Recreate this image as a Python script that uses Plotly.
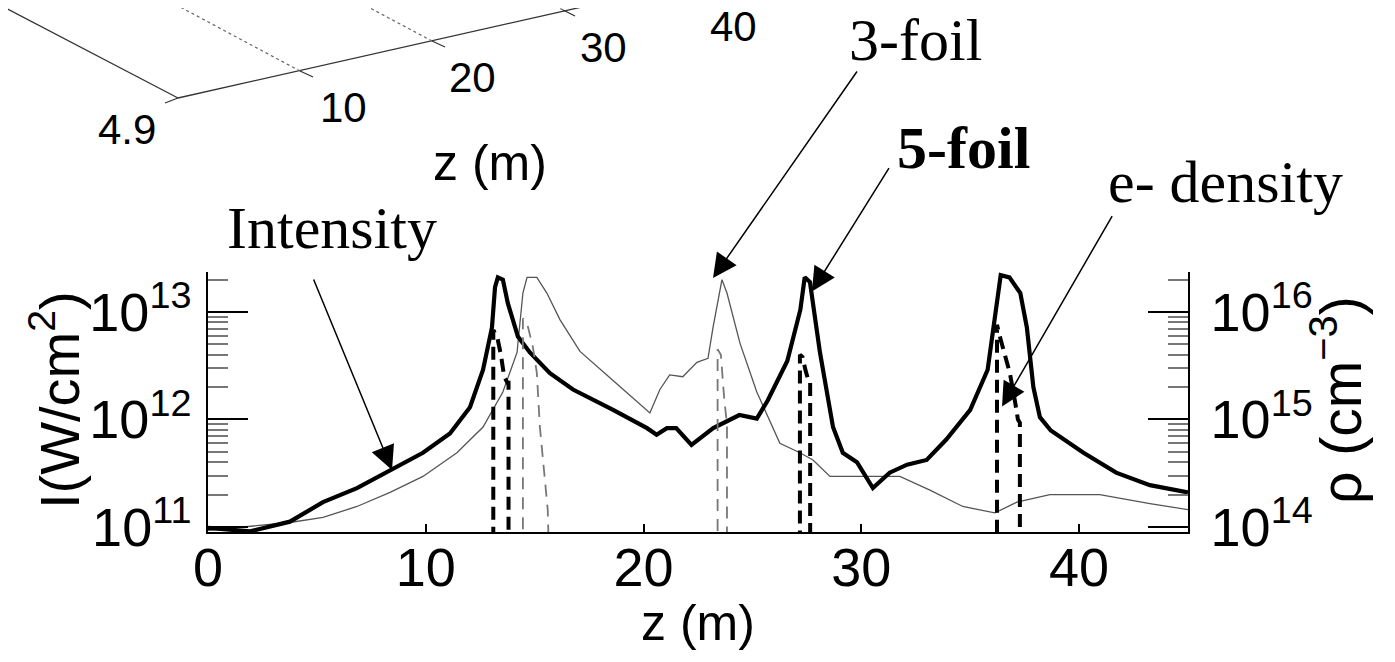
import plotly.graph_objects as go

# ---------------- data ----------------
z_5foil = [0, 1.93, 3.76, 5.28, 6.84, 8.36, 9.87, 11.11, 12.03, 12.63, 13.04, 13.18, 13.31, 13.54,
           13.77, 14.23, 14.78, 15.70, 16.76, 18.6, 20.16, 20.6, 21.07, 21.5, 22.2, 23.2, 24.4, 25.2,
           25.7, 26.6, 27.2, 27.4, 27.64, 28.1, 28.7, 29.15, 29.8, 30.53, 31.3, 32.1, 33.0, 33.9,
           35.0, 35.8, 36.2, 36.4, 36.8, 37.3, 37.6, 37.9, 38.2, 38.7, 40.2, 41.7, 43.25, 45]
I_5foil = [9.8e10, 9.1e10, 1.12e11, 1.7e11, 2.3e11, 3.4e11, 4.9e11, 7.4e11, 1.3e12, 2.9e12, 7.2e12,
           1.7e13, 2.1e13, 2.0e13, 1.2e13, 5.9e12, 4.2e12, 2.7e12, 1.9e12, 1.23e12, 8.3e11, 7.2e11,
           8.3e11, 8.3e11, 5.8e11, 8.3e11, 1.1e12, 1.02e12, 1.5e12, 3.5e12, 1.05e13, 2.1e13, 1.9e13,
           4.2e12, 8.5e11, 4.9e11, 4.0e11, 2.3e11, 3.2e11, 3.8e11, 4.2e11, 6.5e11, 1.23e12, 2.9e12,
           1.05e13, 2.2e13, 2.1e13, 1.5e13, 7.2e12, 2.0e12, 1.05e12, 7.9e11, 4.9e11, 3.2e11, 2.45e11,
           2.1e11]

z_3foil = [0, 3.76, 5.28, 6.84, 8.36, 9.87, 11.43, 12.63, 13.54, 14.19, 14.46, 14.65, 15.1, 15.56,
           16.16, 17.08, 18.6, 19.83, 20.29, 20.75, 21.2, 21.8, 22.45, 22.96, 23.19, 23.6, 23.83,
           24.43, 25.2, 26.26, 27.18, 27.78, 28.56, 31.77, 33.15, 34.66, 36.13, 37.14, 38.66, 40.95,
           43.25, 45]
I_3foil = [9.3e10, 1.1e11, 1.23e11, 1.55e11, 2.1e11, 2.95e11, 4.9e11, 8.5e11, 1.8e12, 4.2e12, 1.5e13,
           2.1e13, 2.1e13, 1.5e13, 8.5e12, 4.3e12, 2.3e12, 1.4e12, 1.15e12, 1.9e12, 2.6e12, 2.5e12,
           3.4e12, 3.7e12, 7.2e12, 2.0e13, 1.5e13, 5.1e12, 1.8e12, 6.0e11, 4.9e11, 4.2e11, 2.95e11,
           2.95e11, 2.2e11, 1.55e11, 1.35e11, 1.7e11, 2.0e11, 2.0e11, 1.65e11, 1.45e11]

# electron density (cm^-3); 1e13 = no plasma (below the axis)
z_rho5 = [0, 13.1, 13.1, 13.3, 13.45, 13.6, 13.75, 13.8, 13.8, 27.18, 27.18, 27.3, 27.45, 27.6, 27.65,
          27.65, 36.23, 36.23, 36.36, 36.6, 36.82, 37.05, 37.19, 37.28, 37.28, 45]
rho_5foil = [1e13, 1e13, 6.8e15, 5.6e15, 4.0e15, 2.5e15, 2.2e15, 2.2e15, 1e13, 1e13, 4.0e15, 3.8e15,
             2.8e15, 2.2e15, 2.2e15, 1e13, 1e13, 7.6e15, 5.9e15, 3.8e15, 2.7e15, 1.5e15, 1.0e15, 9.3e14,
             1e13, 1e13]
z_rho3 = [0, 14.46, 14.46, 14.65, 14.92, 15.1, 15.24, 15.47, 15.6, 15.75, 23.4, 23.4, 23.55, 23.7,
          23.83, 23.83, 45]
rho_3foil = [1e13, 1e13, 8.7e15, 7.9e15, 4.7e15, 2.7e15, 8.5e14, 2.75e14, 1.45e14, 1e13, 1e13, 4.5e15,
             4.0e15, 1.6e15, 9e14, 1e13, 1e13]

x_ticks = [0, 10, 20, 30, 40]
x_ticktext = ["0", "10", "20", "30", "40"]
I_ticks = [1e11, 1e12, 1e13]
I_ticktext = ["10<sup>11</sup>", "10<sup>12</sup>", "10<sup>13</sup>"]
rho_ticks = [1e14, 1e15, 1e16]
rho_ticktext = ["10<sup>14</sup>", "10<sup>15</sup>", "10<sup>16</sup>"]
minor_vals = [m * 10.0 ** e for e in range(10, 17) for m in range(2, 10)]

# 3D axis fragment labels (upper part of the figure)
frag_labels = ["4.9", "10", "20", "30", "40"]

# ---------------- layout helpers ----------------
OFF = 8                                 # page body margin of the html page
W, H = 1395 - 2 * OFF, 662 - 2 * OFF
L0, R0, T0, B0 = 208, 1188, 272, 532    # plot area in page pixels


def px(x):
    return (x - L0) / (R0 - L0)


def py(y):
    return (B0 - y) / (B0 - T0)


SANS = "Liberation Sans, Arial, Helvetica, sans-serif"
SERIF = "Liberation Serif, Times New Roman, serif"

fig = go.Figure()
fig.add_trace(go.Scatter(x=z_3foil, y=I_3foil, mode="lines", name="3-foil",
                         line=dict(color="#555555", width=1.3), yaxis="y"))
fig.add_trace(go.Scatter(x=z_5foil, y=I_5foil, mode="lines", name="5-foil",
                         line=dict(color="black", width=4.2), yaxis="y"))
fig.add_trace(go.Scatter(x=z_rho3, y=rho_3foil, mode="lines", name="e- density 3-foil",
                         line=dict(color="#777777", width=1.8, dash="12px,8px"), yaxis="y2"))
fig.add_trace(go.Scatter(x=z_rho5, y=rho_5foil, mode="lines", name="e- density 5-foil",
                         line=dict(color="black", width=4, dash="13px,7px"), yaxis="y2"))

fig.update_layout(
    width=W, height=H, autosize=False,
    margin=dict(l=L0 - OFF, r=W - (R0 - OFF), t=T0 - OFF, b=H - (B0 - OFF), pad=0),
    paper_bgcolor="white", plot_bgcolor="white",
    showlegend=False,
    xaxis=dict(range=[0, 45], showgrid=False, zeroline=False, showline=True, linecolor="black",
               linewidth=1.5, ticks="inside", ticklen=8, tickwidth=1.5, tickcolor="black",
               tickvals=x_ticks, ticktext=x_ticktext, ticklabelstandoff=-13,
               tickfont=dict(family=SANS, size=54, color="black")),
    yaxis=dict(type="log", range=[10.953, 13.372], showgrid=False, zeroline=False, showline=True,
               linecolor="black", linewidth=1.5, ticks="inside", ticklen=40, tickwidth=1.5,
               tickcolor="black", tickvals=I_ticks, ticktext=I_ticktext, ticklabelstandoff=4,
               tickfont=dict(family=SANS, size=54, color="black"),
               minor=dict(tickvals=minor_vals, ticks="inside", ticklen=20, tickwidth=1.5,
                          tickcolor="#777777", showgrid=False)),
    yaxis2=dict(type="log", range=[13.953, 16.372], overlaying="y", side="right", showgrid=False,
                zeroline=False, showline=True, linecolor="black", linewidth=1.5, ticks="inside",
                ticklen=40, tickwidth=1.5, tickcolor="black", tickvals=rho_ticks,
                ticktext=rho_ticktext, ticklabelstandoff=10,
                tickfont=dict(family=SANS, size=54, color="black"),
                minor=dict(tickvals=minor_vals, ticks="inside", ticklen=20, tickwidth=1.5,
                           tickcolor="#777777", showgrid=False)),
)

annotations = []


def label(text, x, y, family, size, angle=0):
    annotations.append(dict(text=text, x=px(x), y=py(y), xref="paper", yref="paper", showarrow=False,
                            xanchor="center", yanchor="middle", textangle=angle,
                            font=dict(family=family, size=size, color="black")))


# axis titles
label("z (m)", 698, 623, SANS, 50)
label("I(W/cm<sup>2</sup>)", 55, 400, SANS, 56, -90)
label("ρ (cm<sup>−3</sup>)", 1337, 400, SANS, 57, -90)

# series labels
label("Intensity", 332, 228, SERIF, 60)
label("3-foil", 915, 40, SERIF, 60)
label("<b>5-foil</b>", 963, 148, SERIF, 60)
label("e- density", 1225, 182, SERIF, 60)

arrow_style = dict(showarrow=True, arrowhead=2, arrowsize=3.2, arrowwidth=1.5, arrowcolor="black",
                   text="", axref="pixel", ayref="pixel")
annotations.append(dict(x=8.45, y=11.53, xref="x", yref="y", ax=-79, ay=-192, **arrow_style))
annotations.append(dict(x=23.19, y=13.316, xref="x", yref="y", ax=145, ay=-208, **arrow_style))
annotations.append(dict(x=27.73, y=13.19, xref="x", yref="y", ax=78, ay=-125, **arrow_style))
annotations.append(dict(x=36.46, y=12.12, xref="x", yref="y", ax=111, ay=-192, **arrow_style))

# 3D axis fragment labels
frag_pos = [(127, 130), (343, 107), (472, 77), (603, 47), (733, 26)]
for t, (xx, yy) in zip(frag_labels, frag_pos):
    label(t, xx, yy, SANS, 42)
label("z (m)", 490, 163, SANS, 50)
fig.update_layout(annotations=annotations)

# 3D axis fragment lines (decoration cropped from the panel above)
shapes = []
solid_segs = [((0, 5), (178, 98)), ((178, 98), (613, 0)), ((165, 103), (178, 98)),
              ((300, 71), (313, 77)), ((432, 41), (445, 47)), ((563, 10), (575, 16))]
for (a, b) in solid_segs:
    shapes.append(dict(type="line", xref="paper", yref="paper", x0=px(a[0]), y0=py(a[1]),
                       x1=px(b[0]), y1=py(b[1]), line=dict(color="#333333", width=1.3)))
dot_segs = [((300, 71), (167, 0)), ((432, 41), (355, 0)), ((563, 10), (544, 0))]
for (a, b) in dot_segs:
    shapes.append(dict(type="line", xref="paper", yref="paper", x0=px(a[0]), y0=py(a[1]),
                       x1=px(b[0]), y1=py(b[1]), line=dict(color="#666666", width=1.2, dash="dot")))
fig.update_layout(shapes=shapes)

fig.write_html("out.html")
